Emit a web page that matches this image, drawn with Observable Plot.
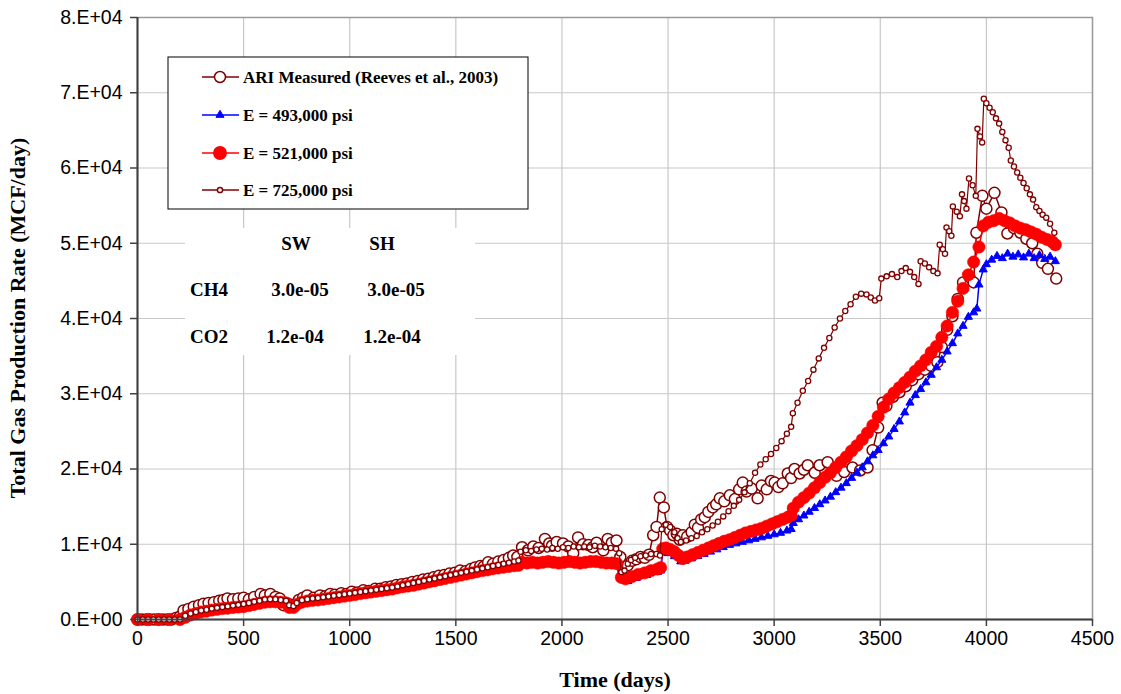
<!DOCTYPE html>
<html><head><meta charset="utf-8">
<script src="https://cdn.jsdelivr.net/npm/d3@7"></script>
<script src="https://cdn.jsdelivr.net/npm/@observablehq/plot@0.6"></script>
<style>
body{margin:0;background:#fff;}
#chart{position:relative;width:1121px;height:694px;}
</style></head><body><div id="chart"></div>
<script>
const xTicks = [0,500,1000,1500,2000,2500,3000,3500,4000,4500];
const yTicks = [0,10000,20000,30000,40000,50000,60000,70000,80000];
const yTickLabels = ["0.E+00","1.E+04","2.E+04","3.E+04","4.E+04","5.E+04","6.E+04","7.E+04","8.E+04"];
const xTitle = "Time (days)";
const yTitle = "Total Gas Production Rate (MCF/day)";
const seriesNames = ["ARI Measured (Reeves et al., 2003)","E = 493,000 psi","E = 521,000 psi","E = 725,000 psi"];
const tableCols = ["SW","SH"];
const tableRows = ["CH4","CO2"];
const tableVals = [["3.0e-05","3.0e-05"],["1.2e-04","1.2e-04"]];

// [day, MCF/day]
const ari = [[0,0],[20,0],[40,0],[60,0],[80,0],[100,0],[120,0],[140,0],[160,0],[180,200],[200,400],[217,1200],[240,1400],[265,1700],[290,1900],[311,2100],[335,2200],[360,2300],[385,2500],[405,2600],[424,2800],[450,2700],[475,2800],[500,2900],[525,2700],[550,3000],[580,3400],[600,3200],[626,3400],[650,3000],[670,2800],[687,1900],[710,2100],[734,1900],[760,2600],[780,2900],[800,3200],[830,2900],[860,3200],[885,3100],[908,3400],[930,3300],[960,3500],[985,3400],[1010,3700],[1035,3600],[1064,3900],[1090,3800],[1120,4100],[1144,4100],[1170,4300],[1195,4400],[1220,4600],[1245,4700],[1270,4800],[1295,5000],[1320,5100],[1345,5300],[1370,5400],[1395,5600],[1420,5800],[1445,5900],[1470,6100],[1495,6200],[1520,6500],[1545,6400],[1570,6700],[1590,6900],[1615,7100],[1630,7000],[1652,7600],[1675,7400],[1700,7700],[1725,7900],[1750,8200],[1770,8500],[1790,8300],[1812,9600],[1840,9200],[1865,9700],[1890,9500],[1920,10700],[1940,10100],[1953,9800],[1975,10300],[2005,10100],[2030,9700],[2053,8800],[2076,10900],[2100,10000],[2125,9900],[2145,9600],[2163,10200],[2195,9200],[2216,10700],[2235,10200],[2257,10500],[2275,8300],[2290,6400],[2310,7200],[2330,7800],[2350,8000],[2370,8300],[2390,8200],[2410,8600],[2430,11200],[2446,12300],[2461,16200],[2480,14900],[2495,12300],[2510,11800],[2525,11200],[2541,11400],[2555,10600],[2570,11200],[2590,11000],[2611,11600],[2626,12600],[2641,12200],[2656,13300],[2673,13600],[2690,14300],[2711,14900],[2727,15300],[2744,16100],[2765,15700],[2791,16500],[2815,16000],[2835,17300],[2852,18200],[2870,17000],[2894,17400],[2922,16100],[2941,17800],[2965,17300],[2985,18400],[3002,18200],[3020,17600],[3040,18100],[3064,19400],[3080,18800],[3096,20000],[3120,19400],[3140,19900],[3158,20500],[3191,19500],[3214,20500],[3252,20900],[3294,19100],[3330,19600],[3369,20200],[3405,19800],[3440,20200],[3464,22500],[3490,25500],[3511,28800],[3529,28400],[3560,29600],[3590,30200],[3620,31000],[3650,31800],[3680,32600],[3710,33200],[3740,33700],[3769,34200],[3790,36200],[3815,38500],[3840,40300],[3865,42600],[3890,44800],[3920,45500],[3940,44800],[3953,51400],[3981,56300],[4000,54600],[4038,56700],[4071,54100],[4099,51300],[4130,52000],[4160,51400],[4188,50600],[4216,50000],[4240,48600],[4263,47400],[4290,46600],[4329,45300]];

const e493 = [[0,0],[100,0],[200,0],[250,550],[300,950],[350,1200],[400,1400],[450,1550],[500,1650],[550,1950],[600,2250],[650,2300],[700,2150],[715,1550],[735,1550],[750,1950],[800,2400],[850,2550],[900,2750],[950,2950],[1000,3150],[1050,3400],[1100,3600],[1150,3800],[1200,4000],[1250,4300],[1300,4500],[1350,4800],[1400,5100],[1450,5400],[1500,5700],[1550,6000],[1600,6300],[1650,6550],[1700,6800],[1750,7000],[1795,7150],[1810,7500],[1860,7500],[1910,7500],[1960,7500],[2010,7500],[2060,7500],[2110,7500],[2160,7600],[2210,7400],[2260,7300],[2275,5500],[2290,5200],[2310,5100],[2350,5500],[2400,5900],[2450,6300],[2465,6500],[2475,8900],[2500,8800],[2530,8400],[2560,7700],[2580,7800],[2610,8100],[2640,8400],[2670,8700],[2700,9000],[2730,9300],[2760,9600],[2790,9900],[2820,10100],[2850,10300],[2880,10500],[2910,10700],[2940,10900],[2970,11100],[3000,11300],[3030,11500],[3060,11800],[3080,12000],[3090,12800],[3115,13300],[3140,13800],[3165,14300],[3190,14800],[3215,15300],[3240,15800],[3265,16300],[3290,16900],[3315,17500],[3340,18100],[3365,18800],[3390,19500],[3415,20200],[3440,21000],[3465,21800],[3490,22500],[3515,23400],[3540,24300],[3565,25300],[3590,26300],[3615,27500],[3640,28800],[3665,29800],[3690,30600],[3715,31500],[3740,32500],[3765,33500],[3790,34500],[3815,35600],[3840,36700],[3865,38000],[3890,39000],[3915,40200],[3940,40800],[3955,41300],[3965,44500],[3985,46500],[4000,47200],[4025,47800],[4050,48300],[4075,48000],[4100,48600],[4125,48200],[4150,48500],[4175,48100],[4200,48600],[4225,48000],[4250,48400],[4275,47900],[4300,48200],[4325,47600]];

const e521 = [[0,0],[50,0],[100,0],[150,0],[200,0],[225,300],[250,600],[275,800],[300,1000],[325,1100],[350,1250],[375,1350],[400,1450],[425,1500],[450,1600],[475,1650],[500,1700],[525,1850],[550,2000],[575,2150],[600,2300],[625,2350],[650,2350],[675,2300],[700,2200],[715,1600],[735,1600],[750,2000],[775,2300],[800,2450],[825,2550],[850,2600],[875,2700],[900,2800],[925,2900],[950,3000],[975,3100],[1000,3200],[1025,3300],[1050,3450],[1075,3550],[1100,3650],[1125,3750],[1150,3850],[1175,3950],[1200,4050],[1225,4200],[1250,4350],[1275,4450],[1300,4550],[1325,4700],[1350,4850],[1375,5000],[1400,5150],[1425,5300],[1450,5450],[1475,5600],[1500,5750],[1525,5900],[1550,6050],[1575,6200],[1600,6350],[1625,6500],[1650,6600],[1675,6750],[1700,6850],[1725,6950],[1750,7050],[1775,7150],[1795,7200],[1810,7600],[1835,7500],[1860,7600],[1885,7500],[1910,7600],[1935,7700],[1960,7600],[1985,7500],[2010,7600],[2035,7700],[2060,7600],[2085,7500],[2110,7600],[2135,7700],[2160,7700],[2185,7600],[2210,7500],[2235,7500],[2260,7400],[2280,5600],[2300,5400],[2330,5700],[2360,6000],[2390,6200],[2420,6500],[2450,6700],[2465,6900],[2475,9400],[2490,9500],[2510,9300],[2530,9000],[2550,8500],[2570,8100],[2590,8300],[2615,8600],[2640,8900],[2665,9200],[2690,9500],[2715,9800],[2740,10100],[2765,10400],[2790,10600],[2815,10900],[2840,11200],[2865,11500],[2890,11700],[2915,11900],[2940,12100],[2965,12400],[2990,12700],[3015,13000],[3040,13300],[3065,13600],[3080,13800],[3090,14800],[3115,15600],[3140,16200],[3165,16800],[3190,17500],[3215,18200],[3240,18900],[3265,19500],[3290,20200],[3315,20900],[3340,21600],[3365,22400],[3390,23100],[3415,23900],[3440,24800],[3465,25800],[3490,27000],[3515,28200],[3540,29300],[3565,30100],[3590,30800],[3615,31500],[3640,32200],[3665,33000],[3690,33700],[3715,34500],[3740,35500],[3765,36300],[3790,37500],[3815,39000],[3840,40800],[3865,42300],[3890,44000],[3915,45800],[3940,47500],[3965,49500],[3985,52300],[4010,52800],[4035,53000],[4060,53300],[4085,53000],[4110,52700],[4135,52300],[4160,52000],[4185,51800],[4210,51500],[4235,51200],[4260,50800],[4285,50500],[4310,50200],[4325,49800]];

const e725 = [[0,0],[25,0],[50,0],[75,0],[100,0],[125,0],[150,0],[175,0],[200,0],[225,500],[250,800],[275,1000],[300,1200],[325,1300],[350,1450],[375,1550],[400,1650],[425,1750],[450,1850],[475,1950],[500,2050],[525,2200],[550,2350],[575,2500],[600,2650],[625,2700],[650,2700],[675,2600],[700,2500],[715,1900],[735,1800],[750,2200],[775,2550],[800,2700],[825,2800],[850,2850],[875,2950],[900,3050],[925,3150],[950,3250],[975,3350],[1000,3450],[1025,3550],[1050,3650],[1075,3750],[1100,3850],[1125,3950],[1150,4050],[1175,4150],[1200,4250],[1225,4400],[1250,4550],[1275,4700],[1300,4850],[1325,5000],[1350,5150],[1375,5300],[1400,5450],[1425,5600],[1450,5750],[1475,5900],[1500,6050],[1525,6200],[1550,6350],[1575,6500],[1600,6650],[1625,6800],[1650,6950],[1675,7100],[1700,7250],[1725,7400],[1750,7550],[1775,7700],[1795,7850],[1805,9000],[1830,9200],[1855,9100],[1880,9300],[1905,9400],[1930,9300],[1955,9500],[1980,9400],[2005,9600],[2030,9500],[2055,9700],[2080,9600],[2105,9700],[2130,9600],[2155,9800],[2180,9700],[2205,9600],[2230,9500],[2255,9400],[2270,8800],[2280,6300],[2295,6500],[2310,7400],[2325,7900],[2345,8200],[2370,8400],[2395,8500],[2420,8700],[2445,8700],[2462,8500],[2470,12000],[2490,12600],[2510,12300],[2530,11600],[2545,10800],[2560,10300],[2585,10500],[2610,10800],[2635,11100],[2660,11600],[2685,12000],[2710,12500],[2735,13000],[2760,13700],[2785,14400],[2810,15100],[2835,15900],[2860,16900],[2885,18100],[2910,19500],[2935,20600],[2960,21300],[2985,22000],[3010,22800],[3035,23700],[3060,24700],[3080,25600],[3088,27400],[3110,28800],[3135,30400],[3160,31700],[3185,33200],[3210,34700],[3235,36100],[3260,37400],[3285,38800],[3310,40000],[3335,41000],[3360,41900],[3385,42900],[3410,43300],[3435,43200],[3455,42800],[3475,42400],[3495,42700],[3505,45300],[3530,45600],[3555,45900],[3580,45500],[3600,46300],[3620,46700],[3640,46200],[3660,45500],[3680,44600],[3690,47600],[3710,47300],[3730,46800],[3750,46300],[3770,46000],[3780,49800],[3795,49200],[3805,48600],[3812,52100],[3825,51600],[3835,51000],[3842,54900],[3860,54200],[3875,53600],[3885,56500],[3895,55600],[3906,54600],[3918,58600],[3935,57700],[3950,56300],[3958,65200],[3970,64200],[3980,63400],[3988,69200],[4000,68600],[4015,68000],[4030,67400],[4045,66600],[4060,65900],[4075,64800],[4090,63700],[4105,62700],[4115,61000],[4130,60200],[4145,59400],[4160,58700],[4175,58000],[4190,57300],[4205,56500],[4220,55800],[4235,54800],[4250,54300],[4265,53800],[4282,53400],[4300,52600],[4320,51400]];

const rows = a => a.map(([day, rate]) => ({day, rate}));
const MAROON = "#800000", BLUE = "#0000ff", RED = "#ff0000";

const plot = Plot.plot({
  width: 1121, height: 694,
  marginLeft: 137, marginRight: 29, marginTop: 17, marginBottom: 75,
  style: {background: "#fff", fontFamily: "'Liberation Sans', Arial, sans-serif", fontSize: "19.5px", color: "#000"},
  x: {domain: [0, 4500], label: null},
  y: {domain: [0, 80000], label: null},
  marks: [
    Plot.gridX(xTicks, {stroke: "#c8c8c8", strokeOpacity: 1, strokeWidth: 1.2}),
    Plot.gridY(yTicks, {stroke: "#c8c8c8", strokeOpacity: 1, strokeWidth: 1.2}),
    Plot.frame({stroke: "#9a9a9a", strokeWidth: 1.5}),
    Plot.line(rows(ari), {x: "day", y: "rate", stroke: MAROON, strokeWidth: 1.5}),
    Plot.dot(rows(ari), {x: "day", y: "rate", r: 5.5, stroke: MAROON, fill: "#fff", strokeWidth: 1.5}),
    Plot.line(rows(e493), {x: "day", y: "rate", stroke: BLUE, strokeWidth: 1.5}),
    Plot.dot(rows(e493), {x: "day", y: "rate", symbol: "triangle", r: 3, fill: BLUE, stroke: BLUE, strokeWidth: 1}),
    Plot.line(rows(e521), {x: "day", y: "rate", stroke: RED, strokeWidth: 1.5}),
    Plot.dot(rows(e521), {x: "day", y: "rate", r: 6.2, fill: RED, stroke: RED, strokeWidth: 0.5}),
    Plot.line(rows(e725), {x: "day", y: "rate", stroke: MAROON, strokeWidth: 1.2}),
    Plot.dot(rows(e725), {x: "day", y: "rate", r: 2.6, stroke: MAROON, fill: "#fff", strokeWidth: 1.3}),
    Plot.ruleX([0], {stroke: "#404040", strokeWidth: 2}),
    Plot.ruleY([0], {stroke: "#404040", strokeWidth: 2}),
    Plot.axisX(xTicks, {tickSize: 7, tickPadding: 5, stroke: "#404040", strokeWidth: 1.5, label: null, tickFormat: d => String(d)}),
    Plot.axisY(yTicks, {tickSize: 7, tickPadding: 8, stroke: "#404040", strokeWidth: 1.5, label: null, tickFormat: d => yTickLabels[yTicks.indexOf(d)]})
  ]
});
document.getElementById("chart").appendChild(plot);

const svg = d3.select(plot);
const serif = "'Liberation Serif', 'Times New Roman', serif";
// axis titles
svg.append("text").attr("x", 615).attr("y", 687).attr("text-anchor", "middle")
  .attr("font-family", serif).attr("font-weight", "bold").attr("font-size", 22).attr("fill", "#000").text(xTitle);
svg.append("text").attr("transform", "translate(25,318) rotate(-90)").attr("text-anchor", "middle")
  .attr("font-family", serif).attr("font-weight", "bold").attr("font-size", 22).attr("fill", "#000").text(yTitle);

// legend box
const lg = svg.append("g");
lg.append("rect").attr("x", 168).attr("y", 57).attr("width", 360).attr("height", 152)
  .attr("fill", "#fff").attr("stroke", "#000").attr("stroke-width", 1);
const lgY = [77, 115, 153, 190];
const lgStyle = [
  {stroke: MAROON, kind: "circle", r: 5.5, fill: "#fff"},
  {stroke: BLUE, kind: "triangle", r: 3, fill: BLUE},
  {stroke: RED, kind: "circle", r: 6.2, fill: RED},
  {stroke: MAROON, kind: "circle", r: 2.6, fill: "#fff"}
];
seriesNames.forEach((name, i) => {
  const s = lgStyle[i], y = lgY[i];
  lg.append("line").attr("x1", 202).attr("x2", 239).attr("y1", y).attr("y2", y).attr("stroke", s.stroke).attr("stroke-width", 1.5);
  if (s.kind === "circle") {
    lg.append("circle").attr("cx", 220).attr("cy", y).attr("r", s.r).attr("fill", s.fill).attr("stroke", s.stroke).attr("stroke-width", 1.5);
  } else {
    lg.append("path").attr("transform", `translate(220,${y})`).attr("d", d3.symbol(d3.symbolTriangle, Math.PI * s.r * s.r)()).attr("fill", s.fill).attr("stroke", s.stroke);
  }
  lg.append("text").attr("x", 243).attr("y", y).attr("dy", "0.35em").attr("text-anchor", "start").attr("font-family", serif).attr("font-weight", "bold")
    .attr("font-size", 17).attr("fill", "#000").text(name);
});

// table
const tb = svg.append("g");
tb.append("rect").attr("x", 185).attr("y", 228).attr("width", 290).attr("height", 127).attr("fill", "#fff");
const colX = [296, 382];
const valX = [[300, 396], [295, 392]];
const rowY = [289, 336];
tableCols.forEach((c, j) => tb.append("text").attr("x", colX[j]).attr("y", 243).attr("dy", "0.35em").attr("text-anchor", "middle")
  .attr("font-family", serif).attr("font-weight", "bold").attr("font-size", 19).text(c));
tableRows.forEach((r, i) => {
  tb.append("text").attr("x", 190).attr("y", rowY[i]).attr("dy", "0.35em").attr("text-anchor", "start").attr("font-family", serif).attr("font-weight", "bold").attr("font-size", 19).text(r);
  tableVals[i].forEach((v, j) => tb.append("text").attr("x", valX[i][j]).attr("y", rowY[i]).attr("dy", "0.35em").attr("text-anchor", "middle")
    .attr("font-family", serif).attr("font-weight", "bold").attr("font-size", 19).text(v));
});
</script></body></html>
